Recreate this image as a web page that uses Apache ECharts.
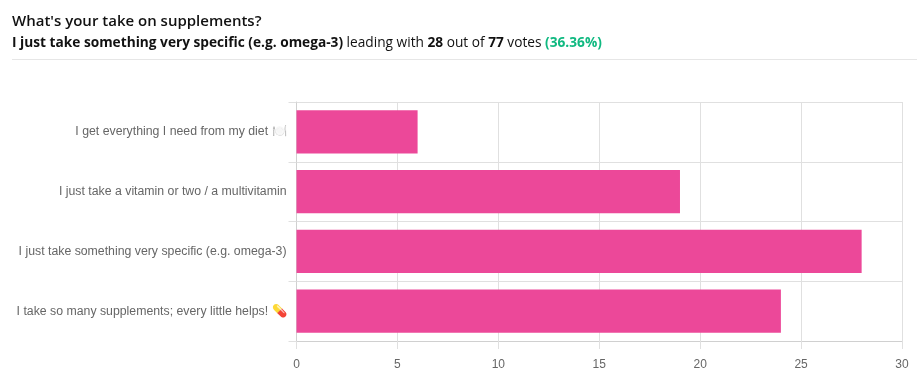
<!DOCTYPE html>
<html>
<head>
<meta charset="utf-8">
<title>What's your take on supplements?</title>
<script src="https://cdn.jsdelivr.net/npm/echarts@6/dist/echarts.min.js"></script>
<style>
	html, body { margin: 0; padding: 0; background: #fff; overflow: hidden; }
	#head { position: absolute; left: 12px; top: 10px; width: 905px; height: 49px; border-bottom: 1px solid #e6e6e6; font-family: "Open Sans", sans-serif; color: #111; }
	#head .t { font-size: 15px; font-weight: 600; line-height: 20px; }
	#head .s { font-size: 13.7px; line-height: 20px; margin-top: 2px; }
	#head .g { color: #10b981; font-weight: 700; }
	#chart { position: absolute; left: 0; top: 0; width: 922px; height: 383px; }
</style>
</head>
<body>
<div id="chart"></div>
<div id="head">
	<div class="t">What's your take on supplements?</div>
	<div class="s"><b>I just take something very specific (e.g. omega-3)</b> leading with <b>28</b> out of <b>77</b> votes <span class="g">(36.36%)</span></div>
</div>
<script>
	var categories = [
		'I get everything I need from my diet \uD83C\uDF7D\uFE0F',
		'I just take a vitamin or two / a multivitamin',
		'I just take something very specific (e.g. omega-3)',
		'I take so many supplements; every little helps! \uD83D\uDC8A'
	];
	var votes = [6, 19, 28, 24];
	var xTicks = [0, 5, 10, 15, 20, 25, 30];

	var myChart = echarts.init(document.getElementById('chart'));
	myChart.setOption({
		animation: false,
		grid: { left: 296.5, right: 20, top: 102, bottom: 42 },
		xAxis: {
			type: 'value',
			min: xTicks[0],
			max: xTicks[xTicks.length - 1],
			interval: xTicks[1] - xTicks[0],
			axisLine: { show: true, lineStyle: { color: '#d0d0d0' } },
			axisTick: { show: true, length: 8, lineStyle: { color: '#e0e0e0' } },
			splitLine: { show: true, lineStyle: { color: '#e0e0e0' } },
			axisLabel: { color: '#666', fontSize: 12, fontFamily: 'Liberation Sans', margin: 18 }
		},
		yAxis: {
			type: 'category',
			inverse: true,
			data: categories,
			axisLine: { show: true, lineStyle: { color: '#d0d0d0' } },
			axisTick: { show: true, length: 8, lineStyle: { color: '#e0e0e0' } },
			splitLine: { show: true, lineStyle: { color: '#e0e0e0' } },
			axisLabel: { color: '#666', fontSize: 12.3, fontFamily: 'Liberation Sans', margin: 10 }
		},
		series: [{
			type: 'bar',
			data: votes,
			barWidth: '72%',
			itemStyle: { color: '#ec4899' }
		}]
	});
</script>
</body>
</html>
